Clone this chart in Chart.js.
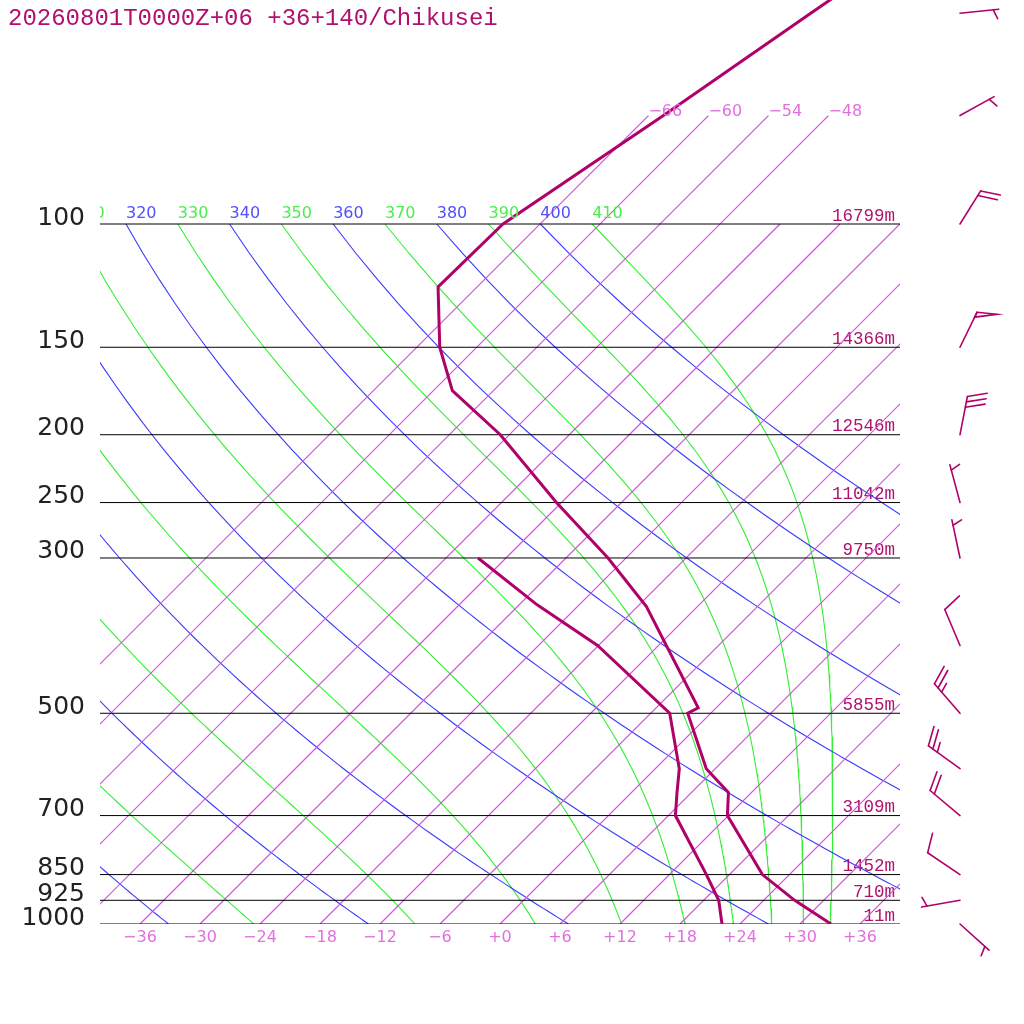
<!DOCTYPE html>
<html lang="en">
<head>
<meta charset="UTF-8">
<title>Emagrama Chikusei</title>
<style>
  html, body { margin: 0; padding: 0; background: #fff; }
  #caja { width: 1024px; height: 1024px; }
</style>
</head>
<body>
<div id="caja"><canvas id="myChart" width="1024" height="1024"></canvas></div>
<script src="https://cdn.jsdelivr.net/npm/chart.js@4.4.1/dist/chart.umd.min.js"></script>
<script>
const titulo = '20260801T0000Z+06 +36+140/Chikusei';

// sondeo (hPa, grados C)
const tempPres = [1000, 925, 850, 700, 649, 600, 500, 491, 352, 300, 250, 200, 173, 150, 123, 100, 70, 50, 30];
const tempVals = [33.1, 27.1, 21.3, 11.9, 9.7, 5.1, -2.3, -1.8, -17.1, -25.8, -36.5, -48.9, -58.1, -63.7, -69.9, -69.7, -64.5, -60.0, -53.0];
const rocioPres = [1000, 925, 850, 700, 650, 600, 500, 400, 350, 300];
const rocioVals = [22.2, 19.5, 15.7, 6.7, 4.6, 2.4, -4.1, -18.1, -28.2, -38.8];

// viento (hPa, direccion en grados, velocidad)
const vientoPres = [50, 70, 100, 150, 200, 250, 300, 400, 500, 600, 700, 850, 925, 1000];
const vientoDir = [84, 61, 32, 26, 11, 345, 348, 337, 319, 306, 310, 304, 260, 132];
const vientoVel = [5, 5, 20, 50, 30, 5, 5, 10, 25, 25, 20, 10, 5, 5];

// niveles y alturas
const niveles = [100, 150, 200, 250, 300, 500, 700, 850, 925, 1000];
const alturas = ['16799m', '14366m', '12546m', '11042m', '9750m', '5855m', '3109m', '1452m', '710m', '11m'];
const xTicks = [-36, -30, -24, -18, -12, -6, 0, 6, 12, 18, 24, 30, 36];

// lineas de fondo
const isotermas = [-66, -60, -54, -48, -42, -36, -30, -24, -18, -12, -6, 0, 6, 12, 18, 24, 30, 36];
const isotermasAltas = [-66, -60, -54, -48];
const adiabSecas = [240, 260, 280, 300, 320, 340, 360, 380, 400];
const adiabHumedas = [250, 270, 290, 310, 330, 350, 370, 390, 410];

const COLOR_PERFIL = '#b0006a';
const COLOR_TEXTO = '#b0106e';
const SKEW = 70;          // grados por decada de presion
const KAPPA = 0.2857;
const P_TOPE = 1000 / Math.pow(10, 924 / 700);

function sx(t, p) { return t + SKEW * Math.log10(1000 / p); }
function menos(v) { return v < 0 ? '\u2212' + (-v) : '+' + v; }

function pendienteHumeda(T, p) {
    const Rd = 287.04, cp = 1005.7, Lv = 2.501e6, eps = 0.622;
    const tc = T - 273.15;
    const es = 6.112 * Math.exp(17.67 * tc / (tc + 243.5));
    const rs = eps * es / (p - es);
    return (1 / p) * (Rd * T + Lv * rs) / (cp + Lv * Lv * rs * eps / (Rd * T * T));
}

function curvaSeca(th) {
    const pts = [];
    for (let p = 100; p <= 1000; p += 10) {
        pts.push({ x: sx(th * Math.pow(p / 1000, KAPPA) - 273.15, p), y: p });
    }
    return pts;
}

function curvaHumeda(th) {
    const pts = [];
    let p = 100, T = th * Math.pow(0.1, KAPPA);
    const dp = 2;
    pts.push({ x: sx(T - 273.15, p), y: p });
    while (p < 1000) {
        const k1 = pendienteHumeda(T, p);
        const k2 = pendienteHumeda(T + k1 * dp / 2, p + dp / 2);
        T += k2 * dp; p += dp;
        if (p % 10 === 0) pts.push({ x: sx(T - 273.15, p), y: p });
    }
    return pts;
}

function isoterma(t) {
    const tope = isotermasAltas.includes(t) ? 70 : 100;
    return [{ x: sx(t, 1000), y: 1000 }, { x: sx(t, tope), y: tope }];
}

function linea(data, color, ancho) {
    return { data: data, borderColor: color, backgroundColor: color, borderWidth: ancho, pointRadius: 0, showLine: true, clip: 0, tension: 0 };
}

const datasets = [];
datasets.push(linea(tempPres.map((p, i) => ({ x: sx(tempVals[i], p), y: p })), COLOR_PERFIL, 3));
datasets.push(linea(rocioPres.map((p, i) => ({ x: sx(rocioVals[i], p), y: p })), COLOR_PERFIL, 3));
niveles.forEach(p => datasets.push(linea([{ x: -40, y: p }, { x: 40, y: p }], '#000', 1)));
// ancho 1.2: con 1px las diagonales a 45 grados salen negras en este renderizador
isotermas.forEach(t => datasets.push(linea(isoterma(t), '#d84ee2', 1.2)));
adiabSecas.forEach(th => datasets.push(linea(curvaSeca(th), '#3a3aff', 1.1)));
adiabHumedas.forEach(th => datasets.push(linea(curvaHumeda(th), '#33ee33', 1.1)));

function dibujarBarba(ctx, x0, y0, dir, vel) {
    const L = 39, esp = 5.5, lb = 20;
    const r = dir * Math.PI / 180, a = 70 * Math.PI / 180;
    const ux = Math.sin(r), uy = -Math.cos(r);
    const bx = ux * Math.cos(a) - uy * Math.sin(a);
    const by = ux * Math.sin(a) + uy * Math.cos(a);
    const tx = x0 + ux * L, ty = y0 + uy * L;
    ctx.beginPath(); ctx.moveTo(x0, y0); ctx.lineTo(tx, ty); ctx.stroke();
    let resto = vel;
    const banderas = Math.floor(resto / 50); resto -= banderas * 50;
    const llenas = Math.floor(resto / 10); resto -= llenas * 10;
    const medias = Math.round(resto / 5);
    let pos = 0;
    for (let i = 0; i < banderas; i++) {
        const px = tx - ux * pos, py = ty - uy * pos;
        ctx.beginPath();
        ctx.moveTo(px, py);
        ctx.lineTo(px + bx * lb, py + by * lb);
        ctx.lineTo(px - ux * esp, py - uy * esp);
        ctx.closePath(); ctx.stroke();
        pos += esp * 1.3;
    }
    for (let i = 0; i < llenas; i++) {
        const px = tx - ux * pos, py = ty - uy * pos;
        ctx.beginPath(); ctx.moveTo(px, py); ctx.lineTo(px + bx * lb, py + by * lb); ctx.stroke();
        pos += esp;
    }
    if (medias) {
        if (pos === 0) pos = esp;
        const px = tx - ux * pos, py = ty - uy * pos;
        ctx.beginPath(); ctx.moveTo(px, py); ctx.lineTo(px + bx * lb / 2, py + by * lb / 2); ctx.stroke();
    }
}

const textos = {
    id: 'textos',
    afterDatasetsDraw(chart) {
        const ctx = chart.ctx, xs = chart.scales.x, ys = chart.scales.y, area = chart.chartArea;
        ctx.save();
        ctx.textAlign = 'left';
        ctx.textBaseline = 'alphabetic';
        ctx.fillStyle = COLOR_TEXTO;
        ctx.font = '24px "Liberation Mono"';
        ctx.fillText(titulo, 8, 25);

        // etiquetas de adiabaticas en 100 hPa, recortadas al area
        ctx.save();
        ctx.beginPath();
        ctx.rect(area.left, 0, area.right - area.left, area.bottom);
        ctx.clip();
        ctx.font = '16px "DejaVu Sans"';
        const y100 = ys.getPixelForValue(100) - 6;
        adiabSecas.forEach(th => {
            ctx.fillStyle = '#5050ff';
            ctx.fillText(String(th), xs.getPixelForValue(sx(th * Math.pow(0.1, KAPPA) - 273.15, 100)), y100);
        });
        adiabHumedas.forEach(th => {
            ctx.fillStyle = '#4cee4c';
            ctx.fillText(String(th), xs.getPixelForValue(sx(th * Math.pow(0.1, KAPPA) - 273.15, 100)), y100);
        });
        ctx.fillStyle = '#e070e0';
        isotermasAltas.forEach(t => {
            ctx.fillText(menos(t), xs.getPixelForValue(sx(t, 70)), ys.getPixelForValue(70));
        });
        ctx.restore();

        // barbas de viento
        ctx.strokeStyle = COLOR_PERFIL;
        ctx.lineWidth = 1.6;
        ctx.lineCap = 'round';
        vientoPres.forEach((p, i) => {
            dibujarBarba(ctx, area.right + 60, ys.getPixelForValue(p), vientoDir[i], vientoVel[i]);
        });
        ctx.restore();
    }
};

function sinRelleno(scale) {
    scale.paddingTop = 0; scale.paddingBottom = 0;
    scale.paddingLeft = 0; scale.paddingRight = 0;
}

const ctx = document.getElementById('myChart').getContext('2d');
const myChart = new Chart(ctx, {
    type: 'scatter',
    data: { datasets: datasets },
    options: {
        responsive: false,
        animation: false,
        devicePixelRatio: 1,
        layout: { padding: 0 },
        plugins: { legend: { display: false }, tooltip: { enabled: false }, title: { display: false } },
        scales: {
            x: {
                type: 'linear', position: 'bottom', min: -40, max: 40,
                grid: { display: false, drawTicks: false }, border: { display: false },
                afterBuildTicks: s => { s.ticks = xTicks.map(v => ({ value: v })); },
                afterFit: s => { s.height = 100; sinRelleno(s); },
                ticks: {
                    color: '#e070e0', font: { family: 'DejaVu Sans', size: 16 }, padding: 4.5,
                    maxRotation: 0, autoSkip: false,
                    callback: v => v === 0 ? '+0' : menos(v)
                }
            },
            y: {
                type: 'logarithmic', position: 'left', reverse: true, min: P_TOPE, max: 1000,
                grid: { display: false }, border: { display: false },
                afterBuildTicks: s => { s.ticks = niveles.map(v => ({ value: v })); },
                afterFit: s => { s.width = 100; sinRelleno(s); },
                ticks: {
                    color: '#222', font: { family: 'DejaVu Sans', size: 25 }, padding: 7,
                    labelOffset: -6, autoSkip: false,
                    callback: v => String(v)
                }
            },
            y2: {
                type: 'logarithmic', position: 'right', reverse: true, min: P_TOPE, max: 1000,
                grid: { display: false }, border: { display: false },
                afterBuildTicks: s => { s.ticks = niveles.map(v => ({ value: v })); },
                afterFit: s => { s.width = 124; sinRelleno(s); },
                ticks: {
                    mirror: true, color: COLOR_TEXTO, font: { family: 'Liberation Mono', size: 17.5 },
                    padding: -5, labelOffset: -8, autoSkip: false,
                    callback: v => alturas[niveles.indexOf(v)]
                }
            }
        }
    },
    plugins: [textos]
});
</script>
</body>
</html>
